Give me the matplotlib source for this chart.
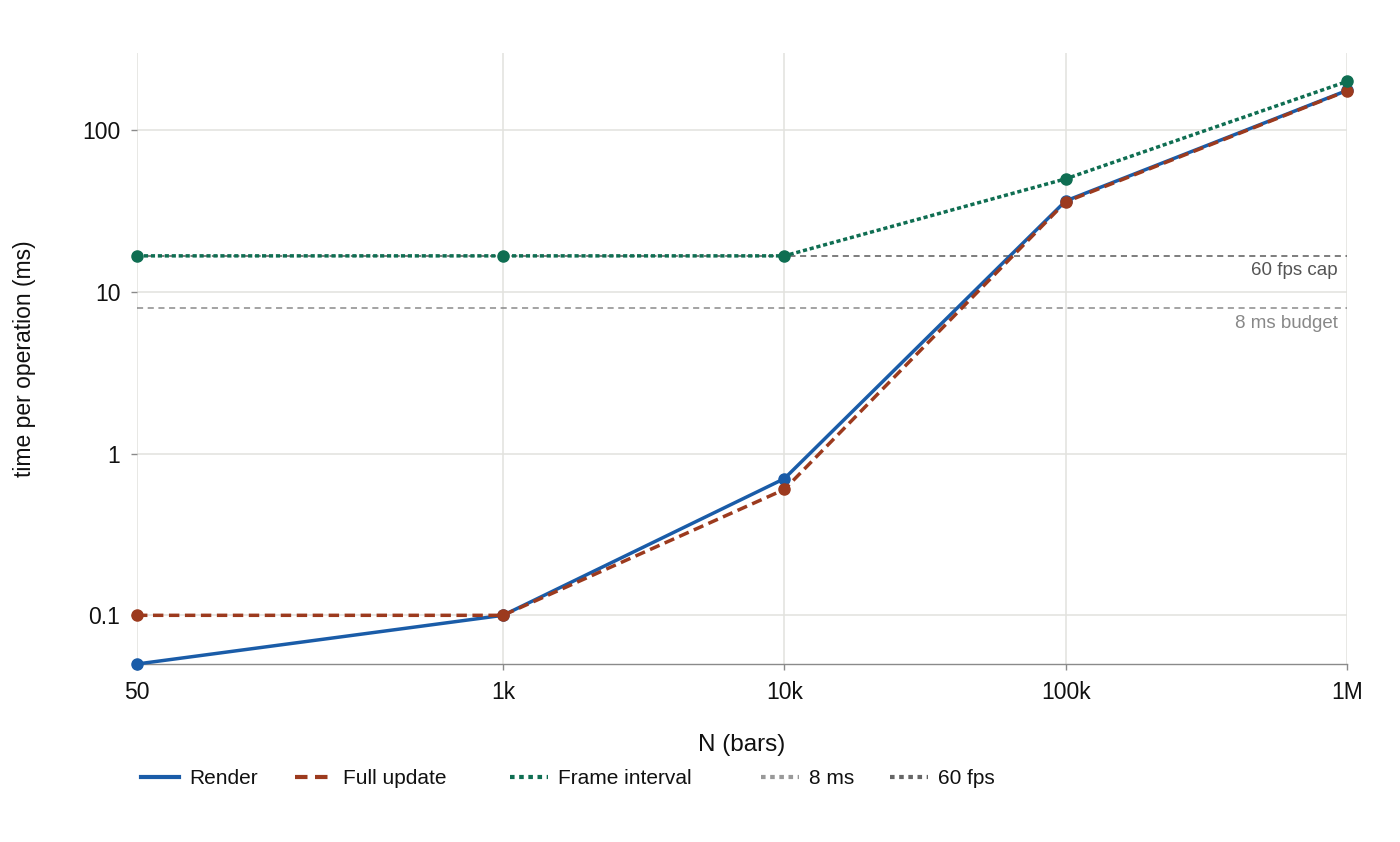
import matplotlib
matplotlib.use("Agg")
import matplotlib.pyplot as plt
from matplotlib.lines import Line2D
from matplotlib.ticker import FixedLocator, FixedFormatter, NullLocator

plt.rcParams['font.family'] = ['Liberation Sans', 'DejaVu Sans']

# ---- data ----
n_bars = [50, 1000, 10000, 100000, 1000000]
x_tick_labels = ['50', '1k', '10k', '100k', '1M']
render_ms = [0.05, 0.1, 0.7, 36.5, 176]
full_update_ms = [0.1, 0.1, 0.6, 36, 175]
frame_interval_ms = [16.7, 16.7, 16.7, 50, 200]
budget_ms = 8
fps_cap_ms = 16.7
y_ticks = [0.1, 1, 10, 100]
y_tick_labels = ['0.1', '1', '10', '100']

C_RENDER = '#1a5ca8'
C_FULL = '#9c3a1e'
C_FRAME = '#0f6e52'
C_BUDGET = '#8a8a8a'
C_FPS = '#5a5a5a'

fig = plt.figure(figsize=(14, 8.42), dpi=100)
W, H = 1400, 842
ax = fig.add_axes([137 / W, 1 - 664 / H, 1210 / W, 611 / H])

ax.set_xscale('log')
ax.set_yscale('log')
ax.set_xlim(50, 1e6)
ax.set_ylim(0.05, 300)

# reference lines
ax.axhline(budget_ms, color=C_BUDGET, lw=1.1, ls=(0, (4, 3)), zorder=2)
ax.axhline(fps_cap_ms, color=C_FPS, lw=1.1, ls=(0, (4, 3)), zorder=2)

lw = 2.5
ax.plot(n_bars, render_ms, color=C_RENDER, lw=lw, ls='-', marker='o', ms=8,
        zorder=4, clip_on=False)
ax.plot(n_bars, full_update_ms, color=C_FULL, lw=lw, ls=(0, (3.0, 1.6)), marker='o', ms=8,
        zorder=5, clip_on=False)
ax.plot(n_bars, frame_interval_ms, color=C_FRAME, lw=lw, ls=(0, (1.2, 0.8)), marker='o', ms=8,
        zorder=6, clip_on=False)

ax.annotate('60 fps cap', xy=(1, fps_cap_ms), xycoords=('axes fraction', 'data'),
            xytext=(-6.5, -10.5), textcoords='offset points', ha='right', va='center',
            fontsize=13.5, color='#555555')
ax.annotate('8 ms budget', xy=(1, budget_ms), xycoords=('axes fraction', 'data'),
            xytext=(-6.5, -11.5), textcoords='offset points', ha='right', va='center',
            fontsize=13.5, color='#888888')

ax.xaxis.set_major_locator(FixedLocator(n_bars))
ax.xaxis.set_major_formatter(FixedFormatter(x_tick_labels))
ax.xaxis.set_minor_locator(NullLocator())
ax.yaxis.set_major_locator(FixedLocator(y_ticks))
ax.yaxis.set_major_formatter(FixedFormatter(y_tick_labels))
ax.yaxis.set_minor_locator(NullLocator())

ax.grid(True, which='major', color='#e2e2de', lw=1.1, zorder=0)
ax.set_axisbelow(True)
for s in ['top', 'right', 'left']:
    ax.spines[s].set_visible(False)
ax.spines['bottom'].set_color('#8a8a8a')
ax.spines['bottom'].set_linewidth(1.0)
ax.tick_params(axis='both', colors='#8a8a8a', length=4, width=1, labelsize=16.5,
               labelcolor='#111111', pad=8)

ax.set_xlabel('N (bars)', fontsize=17.5, color='#111111')
ax.set_ylabel('time per operation (ms)', fontsize=16.5, color='#111111')
ax.xaxis.set_label_coords(0.5, (664 - 745) / 611)
ax.xaxis.label.set_va('center')
ax.yaxis.set_label_coords((25 - 137) / 1210, 0.5)
ax.yaxis.label.set_va('center')

# legend entries placed individually
entries = [
    (Line2D([], [], color=C_RENDER, lw=3, ls='-'), 'Render', 141),
    (Line2D([], [], color=C_FULL, lw=3, ls=(0, (3, 1.8))), 'Full update', 295),
    (Line2D([], [], color=C_FRAME, lw=3, ls=(0, (1.1, 1.1))), 'Frame interval', 510),
    (Line2D([], [], color='#999999', lw=3, ls=(0, (1.1, 1.1))), '8 ms', 761),
    (Line2D([], [], color='#666666', lw=3, ls=(0, (1.1, 1.1))), '60 fps', 890),
]
fs = 15
fs_px = fs * 100 / 72
for h, lab, xpx in entries:
    leg = fig.legend([h], [lab], loc='center left', bbox_to_anchor=(xpx / W, 1 - 779 / H),
                     frameon=False, fontsize=fs, borderpad=0, borderaxespad=0,
                     handlelength=38 / fs_px, handletextpad=10 / fs_px)
    for t in leg.get_texts():
        t.set_color('#111111')

fig.savefig('out.png', dpi=100, facecolor='white')
